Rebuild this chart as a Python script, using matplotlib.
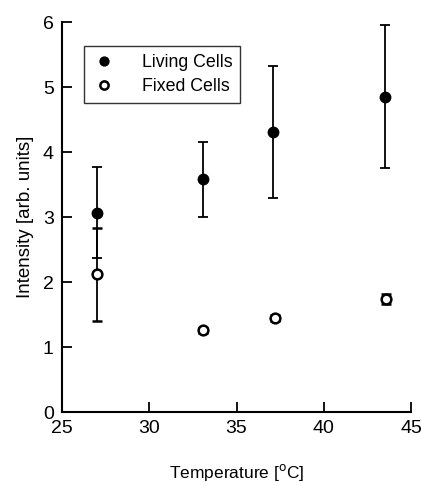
import matplotlib
matplotlib.use("Agg")
import matplotlib.pyplot as plt

# Datos (barras de error simetricas)
temp_vivas = [27.0, 33.1, 37.1, 43.5]
int_vivas = [3.07, 3.58, 4.31, 4.85]
err_vivas = [0.70, 0.58, 1.01, 1.10]

temp_fijas = [27.0, 33.1, 37.2, 43.55]
int_fijas = [2.12, 1.26, 1.45, 1.74]
err_fijas = [0.72, 0.04, 0.05, 0.08]

ticks_x = [25, 30, 35, 40, 45]
ticks_y = [0, 1, 2, 3, 4, 5, 6]

plt.rcParams["font.family"] = ["Liberation Sans", "DejaVu Sans"]

figura = plt.figure(figsize=(4.22, 4.82), dpi=100)
ejes = figura.add_axes([0.147, 0.145, 0.827, 0.809])

ejes.errorbar(temp_vivas, int_vivas, yerr=err_vivas, fmt="o", color="black",
              markersize=7.5, capsize=3.5, elinewidth=1.3, capthick=1.3, label="Living Cells")
ejes.errorbar(temp_fijas, int_fijas, yerr=err_fijas, fmt="o", color="black",
              markerfacecolor="white", markeredgewidth=1.8, markersize=7, capsize=3.5,
              elinewidth=1.3, capthick=1.3, label="Fixed Cells")

ejes.set_xlim(25, 45)
ejes.set_ylim(0, 6)
ejes.set_xticks(ticks_x)
ejes.set_yticks(ticks_y)
ejes.spines["top"].set_visible(False)
ejes.spines["right"].set_visible(False)
ejes.spines["left"].set_linewidth(1.5)
ejes.spines["bottom"].set_linewidth(1.5)
ejes.tick_params(direction="in", length=7, width=1.3, labelsize=14, pad=6)

ejes.set_xlabel("Temperature [$^{\\mathrm{o}}$C]", fontsize=12.5, labelpad=18)
ejes.set_ylabel("Intensity [arb. units]", fontsize=13.5, labelpad=6)

# Leyenda con marco negro, sin las barras de error
handles, labels = ejes.get_legend_handles_labels()
leyenda = ejes.legend([h[0] for h in handles], labels, loc="upper left", bbox_to_anchor=(0.063, 0.938),
                      borderaxespad=0, fontsize=12.8, frameon=True, fancybox=False, edgecolor="black",
                      handlelength=1.4, handletextpad=1.4, borderpad=0.45, labelspacing=0.4,
                      markerscale=0.85)
leyenda.get_frame().set_linewidth(1.0)

figura.savefig("out.png", dpi=100)
